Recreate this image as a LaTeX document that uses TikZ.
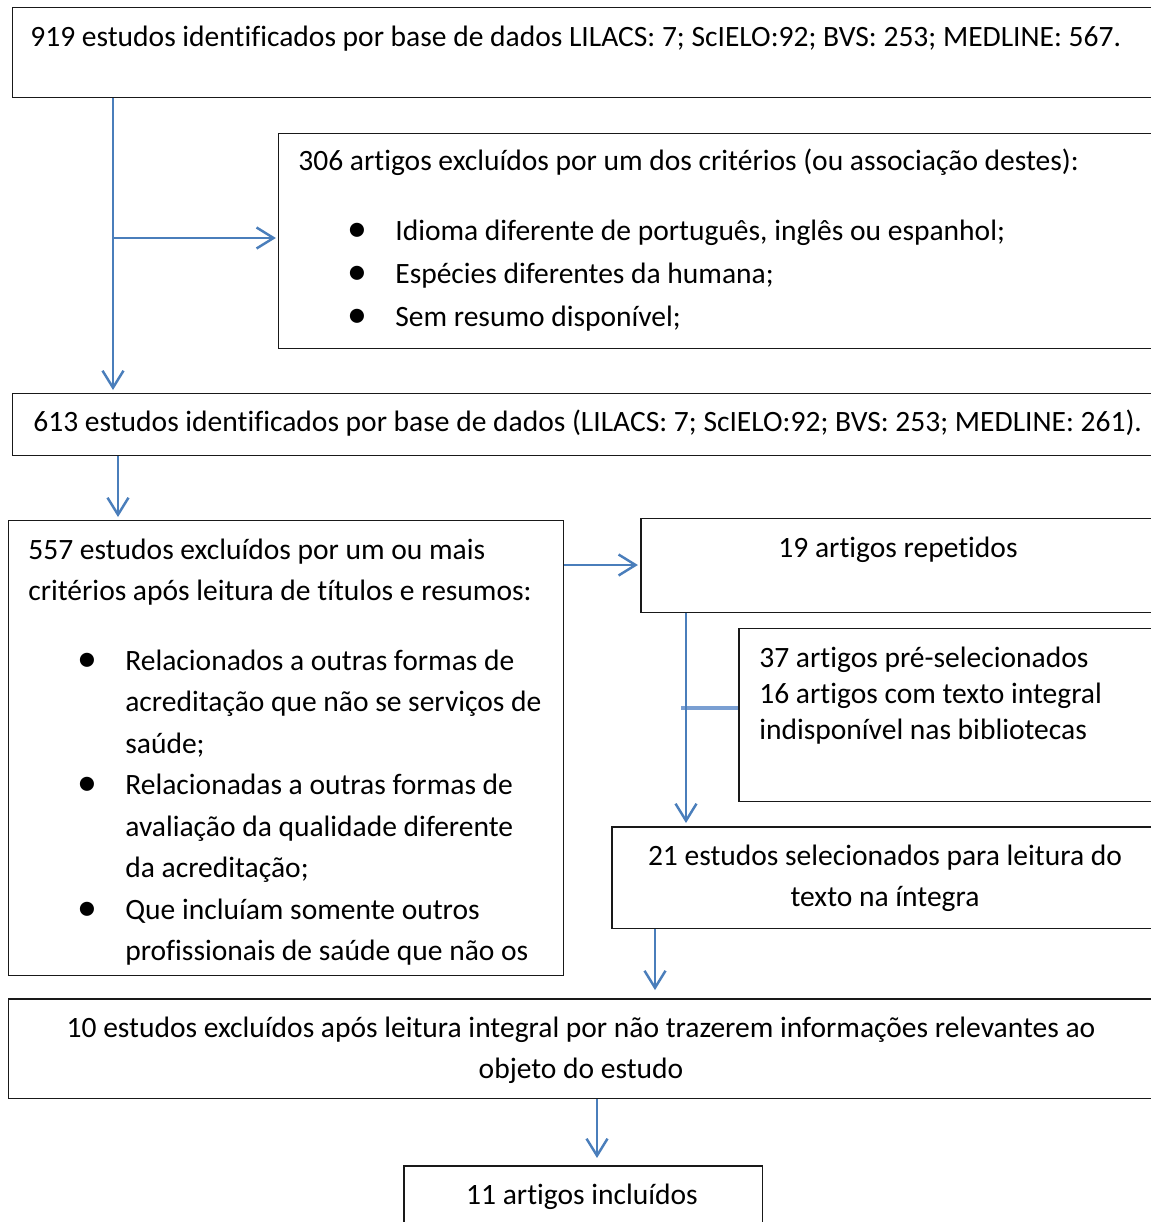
\documentclass[tikz,border=0pt]{standalone}
\usepackage{fontspec}
\setmainfont{Carlito}[Ligatures=NoCommon]
\usetikzlibrary{arrows.meta}
\definecolor{arrowblue}{HTML}{4A7EBB}
\definecolor{stubblue}{HTML}{7A9FD2}
\newcommand{\blt}{\makebox[0.96cm][l]{\raisebox{-0.02cm}{\scalebox{1.35}{\textbullet}}}}
\newcommand{\ind}{\hspace*{0.96cm}}

\begin{document}
\begin{tikzpicture}[x=0.02cm,y=-0.02cm,
	box/.style={draw=black!90,line width=0.85pt,rectangle,anchor=north west,inner sep=0pt},
	txt/.style={inner sep=0pt,align=left,anchor=base west,font=\fontsize{16.8pt}{23.6pt}\selectfont},
	ctxt/.style={txt,align=center,anchor=base},
	arr/.style={draw=arrowblue,line width=1.4pt,-{Straight Barb[length=0.34cm,width=0.42cm]}}]

	\useasboundingbox (0,0) rectangle (1151,1222);
	\clip (0,0) rectangle (1151,1222);

	\node[box,minimum width=22.96cm,minimum height=1.8cm] (1) at (12,7) {};
	\node[box,minimum width=17.64cm,minimum height=4.3cm] (2) at (278,133) {};
	\node[box,minimum width=22.96cm,minimum height=1.24cm] (3) at (12,393) {};
	\node[box,minimum width=11.1cm,minimum height=9.1cm] (4) at (8,520) {};
	\node[box,minimum width=10.4cm,minimum height=1.88cm] (5) at (640,518) {};
	\node[box,minimum width=8.44cm,minimum height=3.46cm] (6) at (738,628) {};
	\node[box,minimum width=10.98cm,minimum height=2.04cm] (7) at (611,826) {};
	\node[box,minimum width=23.04cm,minimum height=2cm] (8) at (8,998) {};
	\node[box,minimum width=7.18cm,minimum height=1.4cm] (9) at (403,1165) {};

	\node[txt] (t1) at (30,47) {919 estudos identificados por base de dados LILACS: 7; ScIELO:92; BVS: 253; MEDLINE: 567.};
	\node[txt] (t2) at (298,171) {306 artigos excluídos por um dos critérios (ou associação destes):};
	\node[txt,font=\fontsize{16.8pt}{24.4pt}\selectfont] (t2b) at (347,326.5) {\blt Idioma diferente de português, inglês ou espanhol;\\
		\blt Espécies diferentes da humana;\\
		\blt Sem resumo disponível;};
	\node[txt] (t3) at (33,431.5) {613 estudos identificados por base de dados (LILACS: 7; ScIELO:92; BVS: 253; MEDLINE: 261).};
	\node[txt] (t4) at (28,600.5) {557 estudos excluídos por um ou mais\\critérios após leitura de títulos e resumos:};
	\node[txt] (t4b) at (77,960.5) {\blt Relacionados a outras formas de\\
		\ind acreditação que não se serviços de\\
		\ind saúde;\\
		\blt Relacionadas a outras formas de\\
		\ind avaliação da qualidade diferente\\
		\ind da acreditação;\\
		\blt Que incluíam somente outros\\
		\ind profissionais de saúde que não os};
	\node[ctxt] (t5) at (898,557.5) {19 artigos repetidos};
	\node[txt,font=\fontsize{16.8pt}{20.4pt}\selectfont] (t6) at (759,739.5) {37 artigos pré-selecionados\\16 artigos com texto integral\\indisponível nas bibliotecas};
	\node[ctxt] (t7) at (885,906.5) {21 estudos selecionados para leitura do\\texto na íntegra};
	\node[ctxt] (t8) at (581,1078.5) {10 estudos excluídos após leitura integral por não trazerem informações relevantes ao\\objeto do estudo};
	\node[ctxt] (t9) at (582,1204.5) {11 artigos incluídos};

	\coordinate (a) at (113,238);
	\coordinate (b) at (118,480);
	\coordinate (c) at (600,565);
	\coordinate (d) at (686,700);
	\coordinate (e) at (681,708);
	\coordinate (f) at (655,960);
	\coordinate (g) at (597,1130);

	\draw[draw=stubblue,line width=1.8pt] (6.west |- e) -- (e);
	\draw[arr,shorten >=1.7pt] (1.south -| a) -- (3.north -| a);
	\draw[arr,shorten >=1.2pt] (a) -- (2.west |- a);
	\draw[arr,shorten >=1.7pt] (3.south -| b) -- (4.north -| b);
	\draw[arr,shorten >=1.2pt] (4.east |- c) -- (5.west |- c);
	\draw[arr,shorten >=1.7pt] (5.south -| d) -- (7.north -| d);
	\draw[arr,shorten >=4.5pt] (7.south -| f) -- (8.north -| f);
	\draw[arr,shorten >=4pt] (8.south -| g) -- (9.north -| g);
\end{tikzpicture}
\end{document}
